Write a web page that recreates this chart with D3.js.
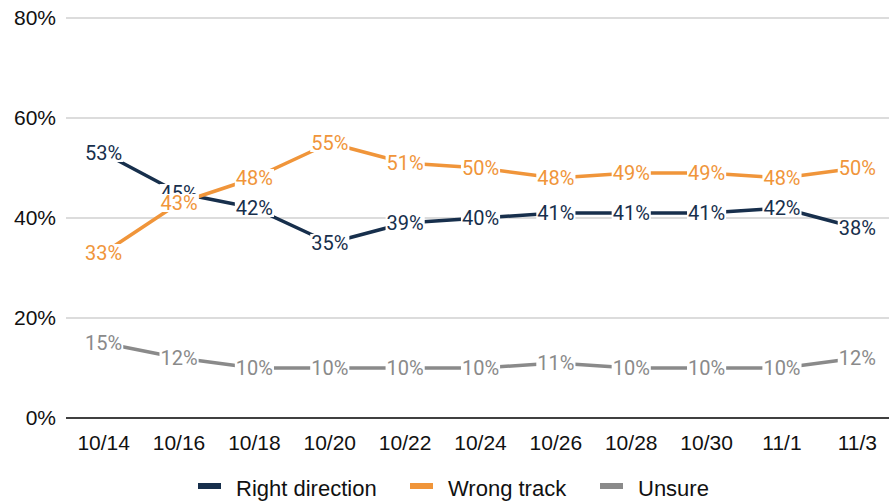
<!DOCTYPE html>
<html>
<head>
<meta charset="utf-8">
<script src="https://cdn.jsdelivr.net/npm/d3@7"></script>
<style>
  body { margin: 0; background: #fff; }
  text { font-family: "Liberation Sans", Arial, sans-serif; }
  .lbl text { font-family: Roboto, "Liberation Sans", sans-serif; }
</style>
</head>
<body>
<div class="g-chart-container"></div>
<script>
var dates = ["10/14", "10/16", "10/18", "10/20", "10/22", "10/24", "10/26", "10/28", "10/30", "11/1", "11/3"];
var rightDirection = [53, 45, 42, 35, 39, 40, 41, 41, 41, 42, 38];
var wrongTrack = [33, 43, 48, 55, 51, 50, 48, 49, 49, 48, 50];
var unsure = [15, 12, 10, 10, 10, 10, 11, 10, 10, 10, 12];
var yTicks = [0, 20, 40, 60, 80];

var width = 889;
var height = 502;

var series = [
  { name: "Right direction", values: rightDirection, color: "#172f4c" },
  { name: "Wrong track", values: wrongTrack, color: "#f0953a" },
  { name: "Unsure", values: unsure, color: "#8a8a8a" }
];

var svg = d3.select(".g-chart-container")
  .append("svg")
  .attr("width", width)
  .attr("height", height);

var x = d3.scalePoint()
  .domain(dates)
  .range([66, 895])
  .padding(0.5);

var y = d3.scaleLinear()
  .domain([0, 80])
  .range([418, 18]);

// gridlines
svg.selectAll(".grid")
  .data(yTicks)
  .enter()
  .append("line")
  .attr("x1", 66)
  .attr("x2", width)
  .attr("y1", function(d){ return y(d); })
  .attr("y2", function(d){ return y(d); })
  .style("stroke", function(d){ return d === 0 ? "#404040" : "#d0d0d0"; })
  .style("stroke-width", function(d){ return d === 0 ? 2 : 1.5; });

// y tick labels
svg.selectAll(".ytick")
  .data(yTicks)
  .enter()
  .append("text")
  .attr("x", 56)
  .attr("y", function(d){ return y(d); })
  .attr("dy", "0.35em")
  .attr("text-anchor", "end")
  .style("font-size", "21px")
  .style("fill", "#111")
  .text(function(d){ return d + "%"; });

// x tick labels
svg.selectAll(".xtick")
  .data(dates)
  .enter()
  .append("text")
  .attr("x", function(d){ return x(d); })
  .attr("y", 443)
  .attr("dy", "0.35em")
  .attr("text-anchor", "middle")
  .style("font-size", "21px")
  .style("fill", "#111")
  .text(function(d){ return d; });

var line = d3.line()
  .x(function(d, i){ return x(dates[i]); })
  .y(function(d){ return y(d); });

// lines first
series.forEach(function(s){
  svg.append("path")
    .datum(s.values)
    .attr("d", line)
    .style("fill", "none")
    .style("stroke", s.color)
    .style("stroke-width", 3.5)
    .style("stroke-linejoin", "round");
});

// data labels with white boxes
series.forEach(function(s){
  var g = svg.append("g").attr("class", "lbl");
  s.values.forEach(function(v, i){
    var lbl = g.append("g")
      .attr("transform", "translate(" + x(dates[i]) + "," + y(v) + ")");
    var bg = lbl.append("rect").style("fill", "#fff");
    var t = lbl.append("text")
      .attr("text-anchor", "middle")
      .attr("dy", "0.35em")
      .style("font-size", "20px")
      .style("fill", s.color)
      .text(v + "%");
    var bb = t.node().getBBox();
    bg.attr("x", bb.x - 1).attr("y", bb.y + 3)
      .attr("width", bb.width + 2).attr("height", bb.height - 6);
  });
});

// legend
var legendX = [198, 410, 600];
var legend = svg.selectAll(".legend")
  .data(series)
  .enter()
  .append("g")
  .attr("transform", function(d, i){ return "translate(" + legendX[i] + ",486)"; });

legend.append("rect")
  .attr("x", 0)
  .attr("y", -3)
  .attr("width", 23)
  .attr("height", 6)
  .style("fill", function(d){ return d.color; });

legend.append("text")
  .attr("x", 38)
  .attr("y", 2)
  .attr("dy", "0.35em")
  .style("font-size", "22px")
  .style("fill", "#111")
  .text(function(d){ return d.name; });
</script>
</body>
</html>
